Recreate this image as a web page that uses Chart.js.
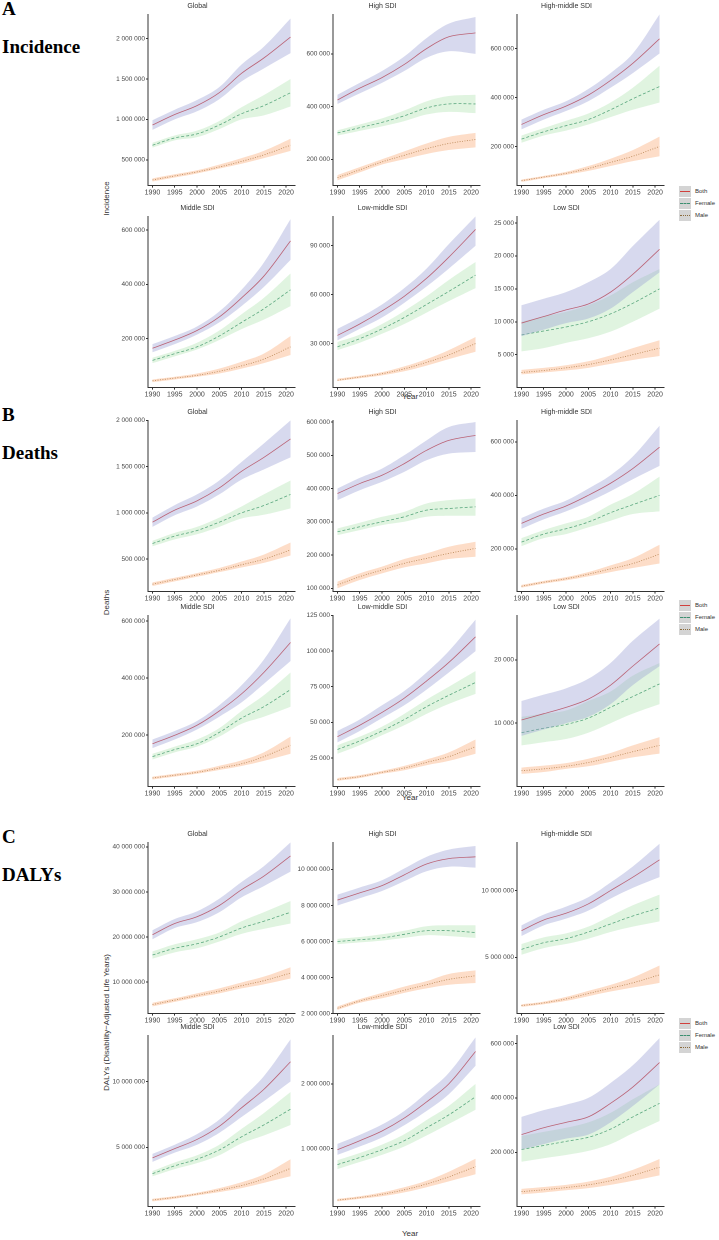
<!DOCTYPE html>
<html><head><meta charset="utf-8">
<script src="https://cdn.jsdelivr.net/npm/chart.js@4/dist/chart.umd.min.js"></script>
<style>
body{margin:0;background:#fff;width:719px;height:1240px;position:relative;overflow:hidden;font-family:"Liberation Sans",Arial,sans-serif}
canvas{position:absolute}
.sec{position:absolute;font-family:"Liberation Serif",serif;font-weight:bold;font-size:19px;color:#000}
.ylab{position:absolute;font-size:8px;color:#333;transform:rotate(-90deg);transform-origin:center;white-space:nowrap;text-align:center}
.xlab{position:absolute;font-size:8px;color:#333}
.leg{position:absolute;font-size:6px;color:#333}
.leg div{height:12px;display:flex;align-items:center}
.leg span.k{display:inline-block;width:12px;height:11px;background:#d4d4d4;margin-right:4px;position:relative}
.leg span.k i{position:absolute;left:1px;right:1px;top:5px;border-top:1px solid}
</style></head><body>
<div class="sec" style="left:2px;top:-2px">A</div>
<div class="sec" style="left:2px;top:36px">Incidence</div>
<div class="sec" style="left:2px;top:404px">B</div>
<div class="sec" style="left:2px;top:442px">Deaths</div>
<div class="sec" style="left:2px;top:826px">C</div>
<div class="sec" style="left:2px;top:864px">DALYs</div>
<div class="ylab" style="left:76px;top:194px;width:60px">Incidence</div>
<div class="ylab" style="left:81px;top:598px;width:50px">Deaths</div>
<div class="ylab" style="left:36px;top:1018px;width:140px">DALYs (Disability−Adjusted Life Years)</div>
<div class="xlab" style="left:402px;top:392px">Year</div>
<div class="xlab" style="left:402px;top:793px">Year</div>
<div class="xlab" style="left:402px;top:1229px">Year</div>
<div id="legends"></div>
<script>
const YEARS = [1990, 1995, 2000, 2005, 2010, 2015, 2021];
const YEAR_TICKS = [1990, 1995, 2000, 2005, 2010, 2015, 2020];
const SERIES_NAMES = ["Both", "Female", "Male"];

// each row: [lower, value, upper]
const incGlobalTop = [[870e3,930e3,990e3],[1000e3,1060e3,1120e3],[1100e3,1170e3,1240e3],[1250e3,1330e3,1400e3],[1470e3,1570e3,1680e3],[1630e3,1760e3,1900e3],[1820e3,2020e3,2250e3]];
const incGlobalMid = [[650e3,680e3,710e3],[740e3,770e3,800e3],[780e3,820e3,860e3],[880e3,930e3,980e3],[1000e3,1070e3,1150e3],[1050e3,1170e3,1300e3],[1160e3,1330e3,1500e3]];
const incGlobalLow = [[230e3,250e3,270e3],[280e3,300e3,320e3],[330e3,350e3,370e3],[390e3,410e3,440e3],[450e3,480e3,520e3],[520e3,560e3,610e3],[610e3,680e3,760e3]];
const incHighTop = [[410e3,425e3,445e3],[450e3,470e3,490e3],[490e3,510e3,535e3],[535e3,560e3,590e3],[585e3,620e3,660e3],[610e3,665e3,715e3],[600e3,680e3,740e3]];
const incHighMid = [[290e3,300e3,310e3],[308e3,320e3,332e3],[325e3,340e3,355e3],[345e3,365e3,385e3],[370e3,395e3,420e3],[380e3,410e3,440e3],[375e3,410e3,445e3]];
const incHighLow = [[120e3,130e3,140e3],[150e3,160e3,170e3],[180e3,190e3,200e3],[200e3,215e3,230e3],[220e3,240e3,260e3],[235e3,260e3,285e3],[245e3,275e3,300e3]];
const incHmTop = [[270e3,290e3,310e3],[310e3,330e3,350e3],[345e3,365e3,385e3],[385e3,410e3,435e3],[440e3,470e3,500e3],[500e3,540e3,580e3],[580e3,640e3,740e3]];
const incHmMid = [[215e3,230e3,245e3],[245e3,260e3,275e3],[265e3,285e3,305e3],[290e3,310e3,335e3],[320e3,350e3,380e3],[350e3,395e3,440e3],[380e3,445e3,530e3]];
const incHmLow = [[55e3,60e3,65e3],[70e3,75e3,80e3],[84e3,90e3,96e3],[100e3,110e3,120e3],[120e3,135e3,150e3],[140e3,160e3,185e3],[160e3,200e3,240e3]];
const incMidTop = [[150e3,165e3,180e3],[180e3,195e3,210e3],[215e3,230e3,245e3],[260e3,280e3,300e3],[320e3,350e3,380e3],[390e3,430e3,480e3],[490e3,560e3,640e3]];
const incMidMid = [[110e3,120e3,130e3],[135e3,145e3,155e3],[160e3,170e3,185e3],[195e3,210e3,230e3],[235e3,260e3,290e3],[270e3,310e3,350e3],[320e3,380e3,440e3]];
const incMidLow = [[40e3,45e3,50e3],[50e3,55e3,60e3],[60e3,65e3,72e3],[72e3,80e3,90e3],[90e3,100e3,115e3],[110e3,125e3,145e3],[140e3,170e3,210e3]];
const incLmTop = [[32e3,35e3,39e3],[39e3,42e3,46e3],[46e3,50e3,54e3],[55e3,59e3,64e3],[65e3,70e3,76e3],[76e3,83e3,91e3],[90e3,100e3,108e3]];
const incLmMid = [[26e3,28e3,31e3],[30.5e3,33e3,35.5e3],[36e3,39e3,42e3],[42e3,46e3,50e3],[49e3,54e3,59e3],[56e3,62e3,69e3],[64e3,72e3,80e3]];
const incLmLow = [[7e3,7.5e3,8.5e3],[8.7e3,9.5e3,10.3e3],[10.5e3,11.5e3,12.5e3],[13e3,14.5e3,16e3],[16.5e3,18.5e3,20.5e3],[20.5e3,23e3,26e3],[25e3,30e3,34e3]];
const incLowTop = [[7.8e3,9.8e3,12.5e3],[8.8e3,10.8e3,13.5e3],[9.8e3,11.8e3,14.5e3],[10.5e3,12.7e3,16e3],[12e3,14.5e3,18e3],[14.5e3,17.2e3,21.5e3],[17.5e3,21e3,25.5e3]];
const incLowMid = [[5.5e3,8e3,10e3],[6e3,8.6e3,10.8e3],[6.8e3,9.2e3,11.5e3],[7.5e3,10e3,12.5e3],[8.5e3,11.2e3,14e3],[10e3,12.8e3,16e3],[12e3,15e3,18e3]];
const incLowLow = [[2e3,2.3e3,2.7e3],[2.3e3,2.6e3,3e3],[2.6e3,3e3,3.4e3],[3e3,3.5e3,4e3],[3.6e3,4.2e3,4.9e3],[4.2e3,5e3,6e3],[4.8e3,6e3,7.2e3]];

const dthGlobalTop = [[850e3,900e3,950e3],[975e3,1030e3,1085e3],[1070e3,1130e3,1200e3],[1200e3,1270e3,1350e3],[1360e3,1450e3,1550e3],[1470e3,1600e3,1750e3],[1600e3,1800e3,2000e3]];
const dthGlobalMid = [[640e3,670e3,700e3],[715e3,750e3,785e3],[770e3,810e3,850e3],[850e3,900e3,950e3],[940e3,1000e3,1070e3],[980e3,1080e3,1200e3],[1050e3,1200e3,1350e3]];
const dthGlobalLow = [[210e3,230e3,250e3],[260e3,280e3,300e3],[310e3,330e3,350e3],[360e3,380e3,405e3],[410e3,440e3,475e3],[460e3,500e3,550e3],[540e3,600e3,680e3]];
const dthHighTop = [[365e3,385e3,400e3],[395e3,415e3,432e3],[420e3,440e3,460e3],[450e3,475e3,500e3],[485e3,515e3,545e3],[505e3,545e3,585e3],[510e3,560e3,600e3]];
const dthHighMid = [[260e3,270e3,280e3],[275e3,285e3,297e3],[290e3,300e3,315e3],[300e3,315e3,330e3],[315e3,335e3,355e3],[318e3,340e3,365e3],[318e3,345e3,370e3]];
const dthHighLow = [[100e3,110e3,120e3],[125e3,135e3,145e3],[145e3,155e3,165e3],[163e3,175e3,188e3],[175e3,190e3,205e3],[188e3,205e3,225e3],[195e3,220e3,240e3]];
const dthHmTop = [[275e3,295e3,315e3],[310e3,330e3,350e3],[340e3,360e3,380e3],[375e3,400e3,425e3],[415e3,445e3,475e3],[460e3,500e3,545e3],[510e3,580e3,660e3]];
const dthHmMid = [[210e3,225e3,240e3],[240e3,255e3,270e3],[255e3,275e3,295e3],[280e3,300e3,320e3],[305e3,335e3,365e3],[330e3,365e3,405e3],[340e3,400e3,470e3]];
const dthHmLow = [[55e3,60e3,65e3],[70e3,75e3,80e3],[82e3,88e3,94e3],[97e3,105e3,113e3],[113e3,125e3,138e3],[128e3,145e3,165e3],[145e3,180e3,215e3]];
const dthMidTop = [[155e3,170e3,185e3],[185e3,200e3,215e3],[220e3,235e3,250e3],[265e3,285e3,305e3],[315e3,345e3,375e3],[380e3,420e3,465e3],[460e3,525e3,610e3]];
const dthMidMid = [[115e3,125e3,135e3],[140e3,150e3,160e3],[160e3,170e3,185e3],[195e3,210e3,225e3],[240e3,260e3,285e3],[265e3,300e3,340e3],[300e3,360e3,420e3]];
const dthMidLow = [[45e3,50e3,55e3],[55e3,60e3,65e3],[65e3,70e3,76e3],[78e3,85e3,93e3],[92e3,100e3,112e3],[110e3,125e3,140e3],[135e3,165e3,195e3]];
const dthLmTop = [[36e3,40e3,44e3],[44e3,48e3,52e3],[53e3,57e3,62e3],[62e3,67e3,72e3],[73e3,79e3,85e3],[85e3,92e3,100e3],[100e3,110e3,122e3]];
const dthLmMid = [[28e3,31e3,34e3],[34e3,37e3,40e3],[41e3,44e3,47e3],[48e3,52e3,56e3],[56e3,61e3,66e3],[63e3,69e3,75e3],[70e3,78e3,86e3]];
const dthLmLow = [[9e3,10e3,11e3],[11e3,12e3,13e3],[14e3,15e3,16e3],[16.5e3,18e3,19.5e3],[20e3,22e3,24e3],[23e3,26e3,29e3],[28e3,33e3,38e3]];
const dthLowTop = [[8e3,10.5e3,13.5e3],[9e3,11.5e3,14.5e3],[10e3,12.5e3,15.5e3],[11e3,13.8e3,17e3],[13e3,16e3,19.5e3],[16e3,19e3,23e3],[19e3,22.5e3,26.5e3]];
const dthLowMid = [[6.5e3,8.5e3,11e3],[7e3,9.2e3,11.5e3],[7.5e3,9.8e3,12e3],[8.5e3,10.8e3,13.5e3],[10e3,12.5e3,15e3],[11.5e3,14.2e3,17.5e3],[13e3,16.2e3,19.5e3]];
const dthLowLow = [[2e3,2.5e3,3e3],[2.3e3,2.8e3,3.3e3],[2.8e3,3.2e3,3.7e3],[3.2e3,3.8e3,4.4e3],[3.9e3,4.6e3,5.3e3],[4.6e3,5.5e3,6.5e3],[5.2e3,6.5e3,7.8e3]];

const dalGlobalTop = [[19.5e6,20.5e6,21.5e6],[22e6,23e6,24e6],[23.3e6,24.5e6,25.7e6],[25.5e6,27e6,28.5e6],[28.8e6,30.5e6,32.2e6],[31.3e6,33.5e6,35.7e6],[34.5e6,38e6,41e6]];
const dalGlobalMid = [[15.2e6,16e6,16.8e6],[16.6e6,17.5e6,18.4e6],[17.5e6,18.5e6,19.5e6],[19e6,20e6,21e6],[20.7e6,22e6,23.5e6],[21.8e6,23.5e6,25.5e6],[23e6,25.5e6,28e6]];
const dalGlobalLow = [[4.6e6,5e6,5.4e6],[5.6e6,6e6,6.4e6],[6.6e6,7e6,7.5e6],[7.5e6,8e6,8.6e6],[8.6e6,9.2e6,9.9e6],[9.5e6,10.3e6,11.2e6],[10.8e6,12e6,13.3e6]];
const dalHighTop = [[8e6,8.3e6,8.6e6],[8.4e6,8.7e6,9e6],[8.8e6,9.1e6,9.4e6],[9.35e6,9.7e6,10.05e6],[9.9e6,10.3e6,10.7e6],[10.15e6,10.6e6,11.1e6],[10.1e6,10.7e6,11.3e6]];
const dalHighMid = [[5.85e6,6e6,6.15e6],[5.95e6,6.1e6,6.25e6],[6.05e6,6.2e6,6.4e6],[6.2e6,6.4e6,6.6e6],[6.35e6,6.6e6,6.85e6],[6.3e6,6.6e6,6.9e6],[6.2e6,6.5e6,6.9e6]];
const dalHighLow = [[2.2e6,2.3e6,2.4e6],[2.6e6,2.7e6,2.8e6],[2.85e6,3e6,3.15e6],[3.15e6,3.3e6,3.5e6],[3.4e6,3.6e6,3.8e6],[3.6e6,3.9e6,4.2e6],[3.7e6,4.1e6,4.4e6]];
const dalHmTop = [[6.6e6,7e6,7.4e6],[7.4e6,7.8e6,8.2e6],[7.9e6,8.3e6,8.8e6],[8.5e6,9e6,9.5e6],[9.4e6,10e6,10.6e6],[10.2e6,11e6,11.8e6],[11e6,12.3e6,13.5e6]];
const dalHmMid = [[5.2e6,5.6e6,6e6],[5.7e6,6.1e6,6.5e6],[6e6,6.4e6,6.8e6],[6.4e6,6.9e6,7.3e6],[6.9e6,7.5e6,8.1e6],[7.3e6,8.1e6,8.9e6],[7.7e6,8.7e6,9.7e6]];
const dalHmLow = [[1.3e6,1.4e6,1.5e6],[1.5e6,1.6e6,1.7e6],[1.75e6,1.9e6,2.05e6],[2.1e6,2.3e6,2.5e6],[2.45e6,2.7e6,2.95e6],[2.75e6,3.1e6,3.5e6],[3.1e6,3.7e6,4.4e6]];
const dalMidTop = [[3.9e6,4.2e6,4.5e6],[4.6e6,4.9e6,5.2e6],[5.2e6,5.6e6,6e6],[6.1e6,6.6e6,7.1e6],[7.3e6,8e6,8.7e6],[8.5e6,9.4e6,10.4e6],[10e6,11.5e6,13.2e6]];
const dalMidMid = [[2.8e6,3e6,3.2e6],[3.35e6,3.6e6,3.85e6],[3.8e6,4.1e6,4.4e6],[4.4e6,4.8e6,5.2e6],[5.3e6,5.8e6,6.4e6],[5.9e6,6.7e6,7.6e6],[6.7e6,7.9e6,9.2e6]];
const dalMidLow = [[0.9e6,1e6,1.1e6],[1.1e6,1.2e6,1.3e6],[1.35e6,1.45e6,1.55e6],[1.6e6,1.75e6,1.9e6],[1.9e6,2.1e6,2.35e6],[2.3e6,2.6e6,2.95e6],[2.8e6,3.4e6,4.1e6]];
const dalLmTop = [[0.9e6,0.98e6,1.07e6],[1.03e6,1.12e6,1.21e6],[1.17e6,1.27e6,1.37e6],[1.36e6,1.47e6,1.58e6],[1.58e6,1.72e6,1.86e6],[1.84e6,2e6,2.17e6],[2.28e6,2.5e6,2.72e6]];
const dalLmMid = [[0.68e6,0.75e6,0.82e6],[0.79e6,0.86e6,0.93e6],[0.9e6,0.98e6,1.06e6],[1.03e6,1.12e6,1.22e6],[1.2e6,1.32e6,1.44e6],[1.38e6,1.52e6,1.66e6],[1.6e6,1.8e6,2e6]];
const dalLmLow = [[0.18e6,0.2e6,0.22e6],[0.22e6,0.24e6,0.26e6],[0.26e6,0.29e6,0.32e6],[0.32e6,0.36e6,0.4e6],[0.4e6,0.45e6,0.5e6],[0.49e6,0.56e6,0.64e6],[0.6e6,0.72e6,0.84e6]];
const dalLowTop = [[210e3,265e3,330e3],[230e3,290e3,355e3],[250e3,310e3,375e3],[265e3,330e3,400e3],[310e3,380e3,455e3],[370e3,440e3,520e3],[450e3,530e3,620e3]];
const dalLowMid = [[165e3,210e3,260e3],[178e3,225e3,275e3],[190e3,240e3,290e3],[205e3,255e3,310e3],[230e3,285e3,345e3],[270e3,330e3,395e3],[315e3,380e3,450e3]];
const dalLowLow = [[45e3,55e3,65e3],[52e3,62e3,72e3],[60e3,70e3,80e3],[68e3,80e3,92e3],[80e3,95e3,110e3],[95e3,115e3,135e3],[115e3,145e3,175e3]];

const PANEL_TITLES = ["Global", "High SDI", "High-middle SDI", "Middle SDI", "Low-middle SDI", "Low SDI"];
// [min, max] per panel, and the tick values each panel shows
const INC_AXES = [[180e3,2300e3],[100e3,750e3],[40e3,740e3],[20e3,650e3],[3e3,108e3],[0,26e3]];
const INC_TICKS = [[500e3,1000e3,1500e3,2000e3],[200e3,400e3,600e3],[200e3,400e3,600e3],[200e3,400e3,600e3],[30e3,60e3,90e3],[5e3,10e3,15e3,20e3,25e3]];
const DTH_AXES = [[150e3,2000e3],[90e3,605e3],[40e3,680e3],[20e3,620e3],[5e3,125e3],[0,27e3]];
const DTH_TICKS = [[500e3,1000e3,1500e3,2000e3],[100e3,200e3,300e3,400e3,500e3,600e3],[200e3,400e3,600e3],[200e3,400e3,600e3],[25e3,50e3,75e3,100e3,125e3],[10e3,20e3]];
const DAL_AXES = [[3e6,41e6],[2e6,11.5e6],[0.8e6,13.6e6],[0.5e6,13.5e6],[0.1e6,2.75e6],[0,630e3]];
const DAL_TICKS = [[10e6,20e6,30e6,40e6],[2e6,4e6,6e6,8e6,10e6],[5e6,10e6],[5e6,10e6],[1e6,2e6],[200e3,400e3,600e3]];

const sections = [
  { top: [0, 202], axes: INC_AXES, ticks: INC_TICKS, data: [
    [incGlobalTop, incGlobalMid, incGlobalLow], [incHighTop, incHighMid, incHighLow], [incHmTop, incHmMid, incHmLow],
    [incMidTop, incMidMid, incMidLow], [incLmTop, incLmMid, incLmLow], [incLowTop, incLowMid, incLowLow]] },
  { top: [406, 601], axes: DTH_AXES, ticks: DTH_TICKS, data: [
    [dthGlobalTop, dthGlobalMid, dthGlobalLow], [dthHighTop, dthHighMid, dthHighLow], [dthHmTop, dthHmMid, dthHmLow],
    [dthMidTop, dthMidMid, dthMidLow], [dthLmTop, dthLmMid, dthLmLow], [dthLowTop, dthLowMid, dthLowLow]] },
  { top: [828, 1021], axes: DAL_AXES, ticks: DAL_TICKS, data: [
    [dalGlobalTop, dalGlobalMid, dalGlobalLow], [dalHighTop, dalHighMid, dalHighLow], [dalHmTop, dalHmMid, dalHmLow],
    [dalMidTop, dalMidMid, dalMidLow], [dalLmTop, dalLmMid, dalLmLow], [dalLowTop, dalLowMid, dalLowLow]] },
];

const STYLES = [
  { band: "rgba(150,155,210,0.38)", line: "#d0403c", dash: [] },
  { band: "rgba(160,220,160,0.32)", line: "#3c8f70", dash: [3, 2] },
  { band: "rgba(250,175,125,0.42)", line: "#8a6a3a", dash: [1, 1.5] },
];
const COL_LEFT = [100, 285, 469];
const Y_AXIS_W = 48;

const fmt = (v) => String(Math.round(v)).replace(/\B(?=(\d{3})+(?!\d))/g, " ");

function seriesDatasets(rows, st) {
  return [
    { data: rows.map((r, i) => ({ x: YEARS[i], y: r[2] })), borderWidth: 0, pointRadius: 0,
      backgroundColor: st.band, fill: "+1", tension: 0.35 },
    { data: rows.map((r, i) => ({ x: YEARS[i], y: r[0] })), borderWidth: 0, pointRadius: 0, fill: false, tension: 0.35 },
    { data: rows.map((r, i) => ({ x: YEARS[i], y: r[1] })), borderWidth: 0.8, pointRadius: 0,
      borderColor: st.line, borderDash: st.dash, fill: false, tension: 0.35 },
  ];
}

sections.forEach((sec) => {
  sec.data.forEach((panel, p) => {
    const row = Math.floor(p / 3), col = p % 3;
    const [ymin, ymax] = sec.axes[p];
    const yTicks = sec.ticks[p];
    const cv = document.createElement("canvas");
    cv.style.left = COL_LEFT[col] + "px";
    cv.style.top = sec.top[row] + "px";
    cv.style.width = "205px";
    cv.style.height = "198px";
    cv.width = 205; cv.height = 198;
    document.body.appendChild(cv);
    new Chart(cv.getContext("2d"), {
      type: "line",
      data: { datasets: panel.flatMap((rows, s) => seriesDatasets(rows, STYLES[s])) },
      options: {
        responsive: false, animation: false, devicePixelRatio: 2,
        layout: { padding: { right: 10, top: 0 } },
        plugins: {
          legend: { display: false }, tooltip: { enabled: false },
          title: { display: true, text: PANEL_TITLES[p], color: "#333", font: { size: 7, weight: "normal" }, padding: { top: 2, bottom: 4 } },
          filler: { propagate: false },
        },
        scales: {
          x: { type: "linear", min: 1989, max: 2022,
            afterBuildTicks: (s) => { s.ticks = YEAR_TICKS.map((v) => ({ value: v })); },
            grid: { display: true, drawOnChartArea: false, tickLength: 2, color: "#333" },
            border: { color: "#333" },
            ticks: { color: "#444", font: { size: 7 }, maxRotation: 0, autoSkip: false, padding: 1,
              callback: (v) => String(v) } },
          y: { min: ymin, max: ymax,
            afterFit: (s) => { s.width = Y_AXIS_W; },
            afterBuildTicks: (s) => { s.ticks = yTicks.map((v) => ({ value: v })); },
            grid: { display: true, drawOnChartArea: false, tickLength: 2, color: "#333" },
            border: { color: "#333" },
            ticks: { color: "#444", font: { size: 6.5 }, padding: 1, autoSkip: false,
              callback: (v) => fmt(v) } },
        },
      },
    });
  });
});

// legends
const LEGEND_TOPS = [185, 599, 1017];
const legHost = document.getElementById("legends");
LEGEND_TOPS.forEach((t) => {
  const d = document.createElement("div");
  d.className = "leg";
  d.style.left = "679px"; d.style.top = t + "px";
  d.innerHTML = SERIES_NAMES.map((n, i) =>
    `<div><span class="k"><i style="border-top-color:${STYLES[i].line};border-top-style:${i === 0 ? "solid" : i === 1 ? "dashed" : "dotted"}"></i></span>${n}</div>`).join("");
  legHost.appendChild(d);
});
</script>
</body></html>
